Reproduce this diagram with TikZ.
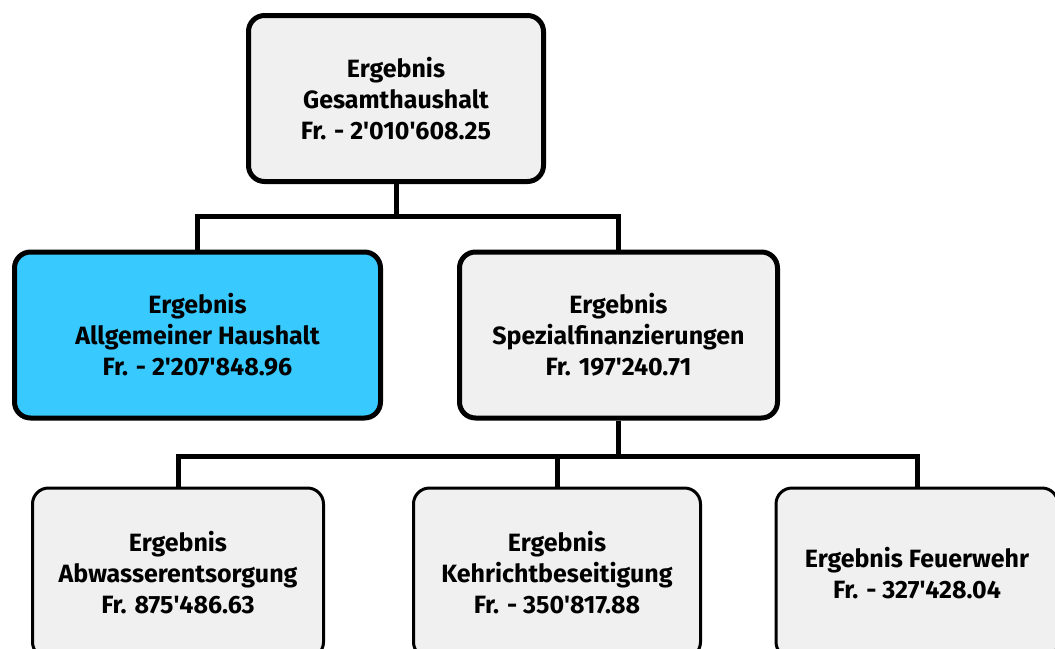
\documentclass[tikz,border=0pt]{standalone}
\usepackage{fontspec}
\setmainfont{Fira Sans}
\newcommand{\aq}{\textquotesingle}
\definecolor{boxgray}{HTML}{F0F0F0}
\definecolor{boxcyan}{HTML}{38CAFF}
\begin{document}
\begin{tikzpicture}[x=1pt,y=-1pt,
  box/.style={draw=black, fill=boxgray, rounded corners=16pt, align=center,
    font=\fontsize{25}{31}\selectfont\bfseries, inner sep=0pt},
  upper/.style={box, line width=5pt, minimum width=#1, minimum height=166pt},
  lower/.style={box, line width=3pt, minimum width=#1, minimum height=170pt},
  conn/.style={line width=5pt}]
\useasboundingbox (0,0) rectangle (1055,648);
\node[upper=295pt] (top) at (396,98.5) {Ergebnis\\Gesamthaushalt\\Fr. - 2\aq 010\aq 608.25};
\node[upper=366pt, fill=boxcyan] (allg) at (197.5,335) {Ergebnis\\Allgemeiner Haushalt\\Fr. - 2\aq 207\aq 848.96};
\node[upper=318pt] (spez) at (618.5,335) {Ergebnis\\Spezialfinanzierungen\\Fr. 197\aq 240.71};
\node[lower=291pt] (abw) at (178,573) {Ergebnis\\Abwasserentsorgung\\Fr. 875\aq 486.63};
\node[lower=287pt] (keh) at (557,573) {Ergebnis\\Kehrichtbeseitigung\\Fr. - 350\aq 817.88};
\node[lower=282pt] (feu) at (917,573) {Ergebnis Feuerwehr\\Fr. - 327\aq 428.04};
\coordinate (j1) at (396,216);
\coordinate (j2) at (618.5,456);
\draw[conn] (top.south) -- (j1);
\draw[conn] (allg.north) |- (j1) -| (spez.north);
\draw[conn] (spez.south) -- (j2);
\draw[conn] (abw.north) |- (j2) -| (feu.north);
\draw[conn] (keh.north) -- (keh.north |- j2);
\end{tikzpicture}
\end{document}
